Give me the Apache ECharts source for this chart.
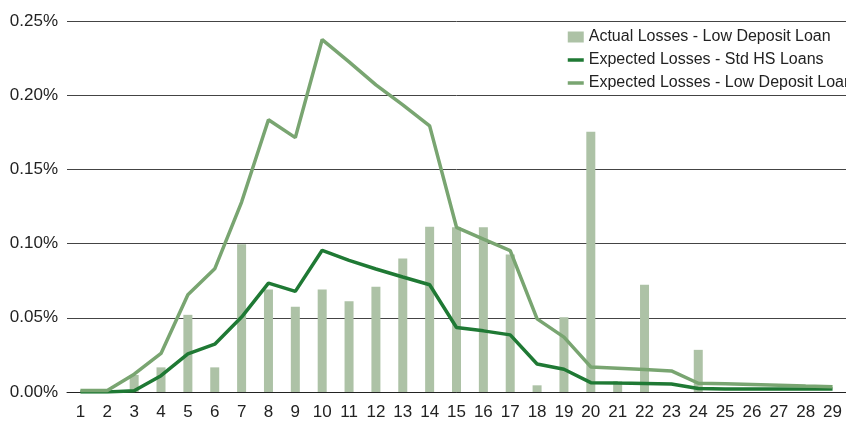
<!DOCTYPE html>
<html><head><meta charset="utf-8">
<script src="https://cdn.jsdelivr.net/npm/echarts@6/dist/echarts.min.js"></script>
<style>html,body{margin:0;padding:0;background:#fff}#c{width:846px;height:423px}</style>
</head><body><div id="c"></div>
<script>
const categories = ['1','2','3','4','5','6','7','8','9','10','11','12','13','14','15','16','17','18','19','20','21','22','23','24','25','26','27','28','29'];
const actualLowDeposit = [0,0,0.0115,0.0166,0.052,0.0166,0.0995,0.069,0.0574,0.069,0.0612,0.071,0.0899,0.1113,0.111,0.111,0.0926,0.0045,0.0504,0.1754,0.0072,0.0723,0,0.0284,0,0,0,0,0];
const expectedStdHS = [0,0,0.0008,0.011,0.0257,0.0322,0.0505,0.0734,0.0678,0.0955,0.0887,0.0829,0.0775,0.0723,0.0435,0.0412,0.0385,0.0189,0.0153,0.0063,0.006,0.0058,0.0054,0.0023,0.0021,0.002,0.002,0.002,0.002];
const expectedLowDeposit = [0.001,0.001,0.012,0.026,0.0656,0.083,0.128,0.1835,0.1714,0.2375,0.2225,0.207,0.1935,0.1793,0.111,0.103,0.0953,0.0493,0.037,0.0169,0.016,0.0151,0.0142,0.0059,0.0055,0.005,0.0045,0.004,0.0036];
const yTicks = [0,0.05,0.10,0.15,0.20,0.25];

const names = ['Actual Losses - Low Deposit Loan','Expected Losses - Std HS Loans','Expected Losses - Low Deposit Loan'];
const chart = echarts.init(document.getElementById('c'), null, {renderer:'canvas'});
const axisFont = '"Liberation Sans", Arial, sans-serif';
chart.setOption({
  animation:false,
  backgroundColor:'#fff',
  grid:{left:67,right:-1,top:21,bottom:31,containLabel:false},
  legend:{
    orient:'vertical', left:561, top:24, itemGap:7,
    itemWidth:16, itemHeight:11,
    textStyle:{fontFamily:'"Liberation Sans", Arial, sans-serif', fontSize:16, color:'#222', lineHeight:16},
    data:[
      {name:names[0], icon:'rect'},
      {name:names[1], itemStyle:{opacity:0}, lineStyle:{width:3.5}},
      {name:names[2], itemStyle:{opacity:0}, lineStyle:{width:3.5}}
    ]
  },
  xAxis:{
    type:'category', data:categories, boundaryGap:true,
    axisLine:{lineStyle:{color:'#222',width:1}},
    axisTick:{show:false},
    axisLabel:{fontFamily:axisFont, fontSize:17, color:'#222', margin:12, interval:0}
  },
  yAxis:{
    type:'value', min:0, max:0.25, interval:0.05,
    axisLine:{show:false}, axisTick:{show:false},
    splitLine:{lineStyle:{color:'#444',width:1}},
    axisLabel:{fontFamily:axisFont, fontSize:17, color:'#222', margin:9,
      formatter:v=>{const t=yTicks.find(x=>Math.abs(x-v)<1e-9);return (t!==undefined?t:v).toFixed(2)+'%';}}
  },
  series:[
    {name:names[0], type:'bar', data:actualLowDeposit, barWidth:9, itemStyle:{color:'#adc2a6'}},
    {name:names[1], type:'line', data:expectedStdHS, symbol:'none', lineStyle:{color:'#1f7934',width:3.5}, itemStyle:{color:'#1f7934'}},
    {name:names[2], type:'line', data:expectedLowDeposit, symbol:'none', lineStyle:{color:'#79a571',width:3.5}, itemStyle:{color:'#79a571'}}
  ]
});
</script></body></html>
